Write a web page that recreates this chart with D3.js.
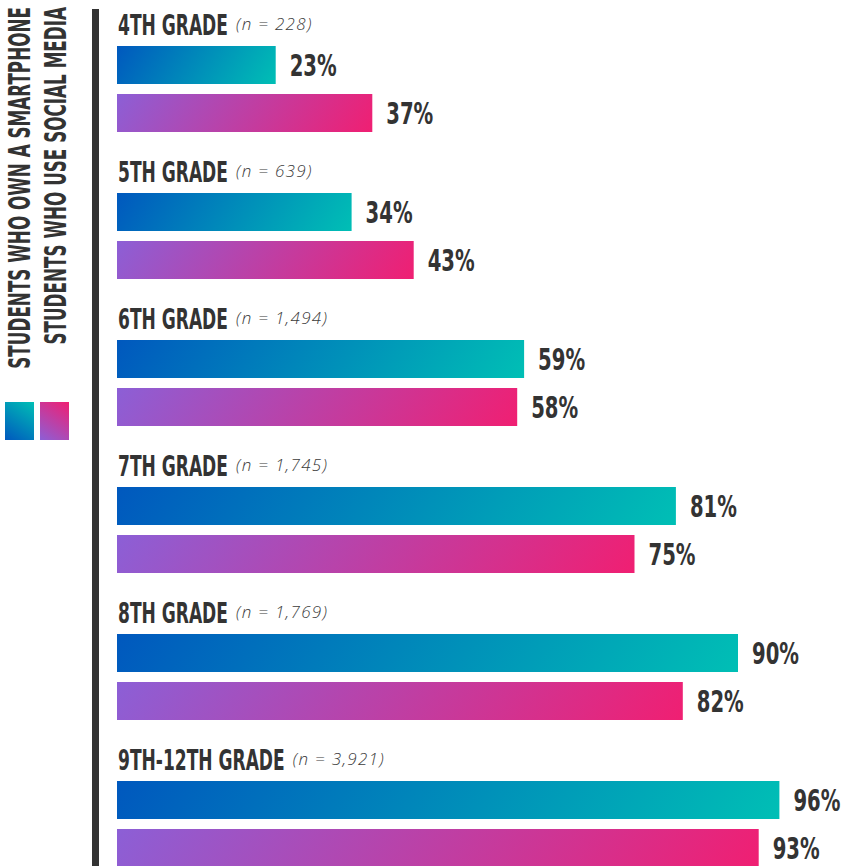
<!DOCTYPE html>
<html>
<head>
<meta charset="utf-8">
<script src="https://cdn.jsdelivr.net/npm/d3@7"></script>
<style>
  html, body { margin: 0; padding: 0; background: #ffffff; }
  svg { display: block; }
</style>
</head>
<body>
<script>
// Grade groups, sample sizes and the two survey measures (percent of students)
const grades = ["4TH GRADE", "5TH GRADE", "6TH GRADE", "7TH GRADE", "8TH GRADE", "9TH-12TH GRADE"];
const sampleSizes = ["228", "639", "1,494", "1,745", "1,769", "3,921"];
const smartphone = [23, 34, 59, 81, 90, 96];
const socialMedia = [37, 43, 58, 75, 82, 93];
const seriesNames = ["STUDENTS WHO OWN A SMARTPHONE", "STUDENTS WHO USE SOCIAL MEDIA"];

const W = 842, H = 866;
const ink = "#333333";
const condensed = "'Liberation Sans Narrow', 'DejaVu Sans Condensed', 'Roboto', sans-serif";

const seriesColors = [
  ["#0058be", "#00bfb5"],
  ["#8c5fd6", "#f01f72"]
];

const svg = d3.select("body").append("svg")
  .attr("width", W).attr("height", H)
  .attr("viewBox", `0 0 ${W} ${H}`);
const defs = svg.append("defs");

// Scales
const x = d3.scaleLinear().domain([0, 100]).range([117, 807]);
const yGroup = d3.scaleBand().domain(grades).range([46, 46 + grades.length * 147]).paddingInner(0).paddingOuter(0);
const ySeries = d3.scaleBand().domain([0, 1]).range([0, 86]).paddingInner(10 / 48).paddingOuter(0);

// Linear gradient in the element's own user space:
// t = 0 at (x0, y0), increasing along direction (ux, uy), t = 1 at the farthest corner
let gradId = 0;
function makeGradient(rect, x0, y0, ux, uy, colors) {
  const corners = [[rect.x, rect.y], [rect.x + rect.w, rect.y], [rect.x, rect.y + rect.h], [rect.x + rect.w, rect.y + rect.h]];
  const span = d3.max(corners, c => (c[0] - x0) * ux + (c[1] - y0) * uy);
  const n2 = ux * ux + uy * uy;
  const id = "g" + (gradId++);
  const g = defs.append("linearGradient").attr("id", id)
    .attr("gradientUnits", "userSpaceOnUse")
    .attr("x1", x0).attr("y1", y0)
    .attr("x2", x0 + ux * span / n2).attr("y2", y0 + uy * span / n2);
  g.append("stop").attr("offset", 0).attr("stop-color", colors[0]);
  g.append("stop").attr("offset", 1).attr("stop-color", colors[1]);
  return `url(#${id})`;
}
const slant = 0.66;

// Horizontally condensed text helper: scale glyphs so a reference string fits a width
function fitFactor(sample, size, targetWidth) {
  const t = svg.append("text").attr("font-family", condensed).attr("font-weight", "bold")
    .attr("font-size", size).text(sample);
  const w = t.node().getComputedTextLength();
  t.remove();
  return targetWidth / w;
}
const titleSize = 28, valueSize = 31, legendSize = 30;
const titleK = fitFactor("4TH GRADE", titleSize, 110);
const valueK = fitFactor("23%", valueSize, 47);
const legendK = fitFactor(seriesNames[0], legendSize, 362);

// Vertical rule
svg.append("rect").attr("x", 92).attr("y", 9).attr("width", 7).attr("height", H - 9).attr("fill", ink);

// Legend: rotated series names and swatches
const legend = svg.append("g");
seriesNames.forEach((name, i) => {
  const bx = [30, 66][i];
  legend.append("g")
    .attr("transform", `translate(${bx},7) rotate(-90) scale(${legendK},1)`)
    .append("text")
    .attr("text-anchor", "end")
    .attr("font-family", condensed).attr("font-weight", "bold")
    .attr("font-size", legendSize).attr("fill", ink)
    .text(name);
  const r = { x: [5, 40][i], y: 402, w: 29, h: 38 };
  legend.append("rect")
    .attr("x", r.x).attr("y", r.y).attr("width", r.w).attr("height", r.h)
    .attr("fill", makeGradient(r, r.x, r.y + r.h, slant, -1, seriesColors[i]));
});

// Groups
const groups = svg.selectAll("g.grade").data(grades).join("g")
  .attr("class", "grade")
  .attr("transform", d => `translate(0,${yGroup(d)})`);

groups.each(function (grade, gi) {
  const g = d3.select(this);
  const titleG = g.append("g").attr("transform", `translate(${x(0) + 1},-11) scale(${titleK},1)`);
  const title = titleG.append("text")
    .attr("font-family", condensed).attr("font-weight", "bold")
    .attr("font-size", titleSize).attr("fill", ink)
    .text(grade);
  const tw = title.node().getComputedTextLength() * titleK;
  g.append("text")
    .attr("x", x(0) + 1 + tw + 8).attr("y", -16.5)
    .attr("font-family", "'Open Sans', 'DejaVu Sans', sans-serif")
    .attr("font-style", "italic").attr("font-weight", 300)
    .attr("font-size", 17)
    .attr("letter-spacing", 1.3)
    .attr("fill", "#3c3c3c")
    .text(`(n = ${sampleSizes[gi]})`);

  [smartphone[gi], socialMedia[gi]].forEach((v, si) => {
    const r = { x: x(0), y: ySeries(si), w: x(v) - x(0), h: ySeries.bandwidth() };
    g.append("rect")
      .attr("x", r.x).attr("y", r.y)
      .attr("width", r.w).attr("height", r.h)
      .attr("fill", makeGradient(r, r.x, r.y, 1, slant, seriesColors[si]));
    g.append("g")
      .attr("transform", `translate(${x(v) + 14},${r.y + r.h / 2 + 11}) scale(${valueK},1)`)
      .append("text")
      .attr("font-family", condensed).attr("font-weight", "bold")
      .attr("font-size", valueSize).attr("fill", ink)
      .text(v + "%");
  });
});
</script>
</body>
</html>
